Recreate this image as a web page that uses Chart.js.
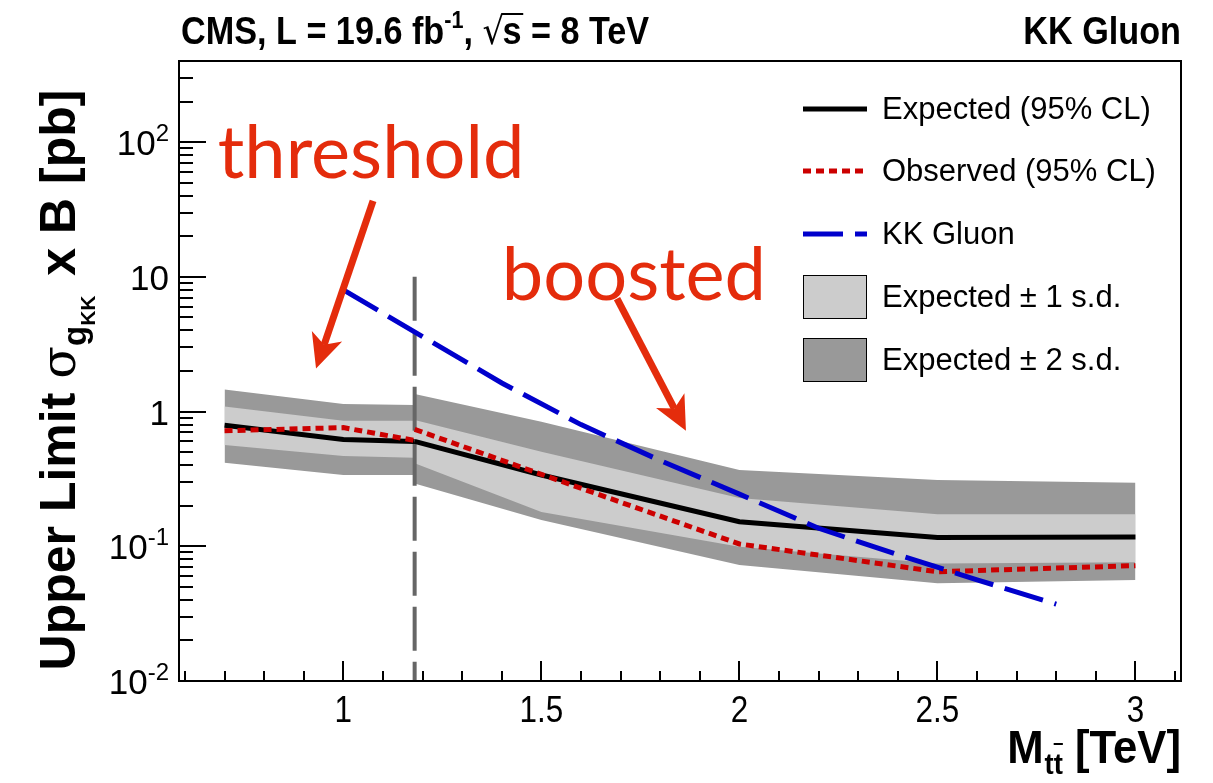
<!DOCTYPE html>
<html>
<head>
<meta charset="utf-8">
<title>KK gluon limits</title>
<script src="https://cdn.jsdelivr.net/npm/chart.js@4.4.1/dist/chart.umd.min.js"></script>
<style>
  html, body { margin: 0; padding: 0; background: #fff; }
  #wrap { width: 1213px; height: 783px; }
</style>
</head>
<body>
<div id="wrap"><canvas id="limits" width="1213" height="783"></canvas></div>
<script>
// threshold analysis, low mass points (TeV, pb)
const thresholdMass = [0.7, 1.0, 1.18];
const thresholdExpected = [0.79, 0.62, 0.60];
const thresholdObserved = [0.72, 0.76, 0.61];
const thresholdUp1 = [1.09, 0.855, 0.855];
const thresholdDown1 = [0.564, 0.468, 0.455];
const thresholdUp2 = [1.46, 1.14, 1.12];
const thresholdDown2 = [0.417, 0.338, 0.338];

// boosted analysis, high mass points
const boostedMass = [1.18, 1.5, 2.0, 2.5, 3.0];
const boostedExpected = [0.60, 0.338, 0.152, 0.116, 0.117];
const boostedObserved = [0.738, 0.342, 0.104, 0.0647, 0.0718];
const boostedUp1 = [0.865, 0.503, 0.228, 0.173, 0.173];
const boostedDown1 = [0.413, 0.180, 0.0993, 0.0746, 0.0760];
const boostedUp2 = [1.35, 0.84, 0.368, 0.310, 0.296];
const boostedDown2 = [0.293, 0.157, 0.0726, 0.0531, 0.0562];

// KK gluon theory cross section
const gluonMass = [1.0, 1.2, 1.4, 1.6, 1.8, 2.0, 2.2, 2.4, 2.6, 2.8];
const gluonXsec = [8.0, 3.6, 1.63, 0.80, 0.433, 0.244, 0.136, 0.0865, 0.0564, 0.0372];

// where threshold hands over to boosted (drawn top down)
const splitMass = [1.18, 1.18];
const splitXsec = [10, 0.01];

// axes
const xRange = [0.585, 3.115];
const yRange = [0.01, 400];
const xMajorTicks = [1, 1.5, 2, 2.5, 3];
const xTickLabels = ['1', '1.5', '2', '2.5', '3'];
const yMajorTicks = [0.01, 0.1, 1, 10, 100];
const yTickLabels = [['10', '-2'], ['10', '-1'], ['1', ''], ['10', ''], ['10', '2']];

// annotations, placed in data coordinates
const noteThreshold = { text: 'threshold', x: 0.683, y: 54 };
const noteBoosted = { text: 'boosted', x: 1.40, y: 6.7 };
const arrowThreshold = { from: [1.075, 36.6], to: [0.931, 2.09] };
const arrowBoosted = { from: [1.691, 6.9], to: [1.865, 0.72] };

const RED = '#cc0000';
const BLUE = '#0000cc';
const NOTE_RED = '#e42c0c';
const LIGHT = '#cccccc';
const DARK = '#999999';

const pts = (xs, ys) => xs.map((x, i) => ({ x: x, y: ys[i] }));

const xMinorTicks = [];
for (let i = 6; i <= 31; i++) xMinorTicks.push(i / 10);
const yMinorTicks = [];
for (let e = -2; e <= 2; e++) {
  for (let m = 2; m <= 9; m++) {
    const v = m * Math.pow(10, e);
    if (v <= yRange[1]) yMinorTicks.push(v);
  }
}

const SANS = '"Liberation Sans", Arial, sans-serif';

// draw a run of text pieces one after the other, returns end x
function drawRun(ctx, pieces, x, y, measureOnly) {
  for (const p of pieces) {
    ctx.font = p.font;
    const w = ctx.measureText(p.t).width;
    if (!measureOnly) {
      ctx.fillText(p.t, x, y + (p.dy || 0));
      if (p.bar) ctx.fillRect(x + p.bar[0] * w, y + (p.dy || 0) - p.bar[1], w * p.bar[2], 2);
    }
    x += w + (p.dx || 0);
  }
  return x;
}

function drawArrow(ctx, chart, a) {
  const xs = chart.scales.x, ys = chart.scales.y;
  const x0 = xs.getPixelForValue(a.from[0]), y0 = ys.getPixelForValue(a.from[1]);
  const x1 = xs.getPixelForValue(a.to[0]), y1 = ys.getPixelForValue(a.to[1]);
  const ang = Math.atan2(y1 - y0, x1 - x0);
  const ux = Math.cos(ang), uy = Math.sin(ang);
  const nx = -uy, ny = ux;
  const headLen = 34, notch = 25, half = 16;
  ctx.save();
  ctx.fillStyle = NOTE_RED;
  ctx.strokeStyle = NOTE_RED;
  ctx.lineWidth = 7;
  ctx.beginPath();
  ctx.moveTo(x0, y0);
  ctx.lineTo(x1 - ux * notch, y1 - uy * notch);
  ctx.stroke();
  ctx.beginPath();
  ctx.moveTo(x1, y1);
  ctx.lineTo(x1 - ux * headLen + nx * half, y1 - uy * headLen + ny * half);
  ctx.lineTo(x1 - ux * notch, y1 - uy * notch);
  ctx.lineTo(x1 - ux * headLen - nx * half, y1 - uy * headLen - ny * half);
  ctx.closePath();
  ctx.fill();
  ctx.restore();
}

const rootFrame = {
  id: 'rootFrame',
  afterDraw(chart) {
    const ctx = chart.ctx;
    const a = chart.chartArea;
    const xs = chart.scales.x, ys = chart.scales.y;
    ctx.save();

    // frame + inward ticks
    ctx.strokeStyle = '#000';
    ctx.lineWidth = 2;
    ctx.strokeRect(a.left, a.top, a.right - a.left, a.bottom - a.top);
    ctx.beginPath();
    xMinorTicks.forEach(v => {
      const px = Math.round(xs.getPixelForValue(v));
      ctx.moveTo(px, a.bottom); ctx.lineTo(px, a.bottom - 10);
    });
    xMajorTicks.forEach(v => {
      const px = Math.round(xs.getPixelForValue(v));
      ctx.moveTo(px, a.bottom); ctx.lineTo(px, a.bottom - 20);
    });
    yMinorTicks.forEach(v => {
      const py = Math.round(ys.getPixelForValue(v));
      ctx.moveTo(a.left, py); ctx.lineTo(a.left + 14, py);
    });
    yMajorTicks.forEach(v => {
      const py = Math.round(ys.getPixelForValue(v));
      ctx.moveTo(a.left, py); ctx.lineTo(a.left + 27, py);
    });
    ctx.stroke();

    ctx.fillStyle = '#000';

    // y tick labels with exponents
    ctx.textBaseline = 'alphabetic';
    ctx.textAlign = 'left';
    yMajorTicks.forEach((v, i) => {
      const py = ys.getPixelForValue(v);
      const [base, exp] = yTickLabels[i];
      const pieces = [{ t: base, font: '35px ' + SANS }];
      if (exp) pieces.push({ t: exp, font: '24px ' + SANS, dy: -14 });
      const w = drawRun(ctx, pieces, 0, 0, true);
      drawRun(ctx, pieces, a.left - 10 - w, py + 13, false);
    });

    // x tick labels, condensed
    ctx.textAlign = 'center';
    xMajorTicks.forEach((v, i) => {
      const px = xs.getPixelForValue(v);
      ctx.save();
      ctx.translate(px, a.bottom + 41);
      ctx.scale(0.85, 1);
      ctx.font = '37px ' + SANS;
      ctx.fillText(xTickLabels[i], 0, 0);
      ctx.restore();
    });

    // header line, bold condensed
    ctx.textAlign = 'left';
    const hb = 'bold 38px ' + SANS, hs = 'bold 24px ' + SANS;
    ctx.save();
    ctx.translate(a.left + 2, 44);
    ctx.scale(0.9, 1);
    let hx = drawRun(ctx, [
      { t: 'CMS, L = 19.6 fb', font: hb },
      { t: '-1', font: hs, dy: -16 },
      { t: ', ', font: hb }
    ], 0, 0, false);
    ctx.font = '38px "DejaVu Sans", sans-serif';
    ctx.fillText('\u221A', hx, 0);
    hx += ctx.measureText('\u221A').width - 2;
    ctx.font = hb;
    const sw = ctx.measureText('s').width;
    ctx.fillText('s', hx, 0);
    ctx.fillRect(hx - 1, -31, sw + 3, 2);
    hx += sw;
    drawRun(ctx, [{ t: ' = 8 TeV', font: hb }], hx, 0, false);
    ctx.restore();

    ctx.save();
    ctx.translate(a.right, 44);
    ctx.scale(0.9, 1);
    ctx.textAlign = 'right';
    ctx.font = hb;
    ctx.fillText('KK Gluon', 0, 0);
    ctx.restore();

    // x axis title
    ctx.save();
    ctx.textAlign = 'left';
    const xb = 'bold 46px ' + SANS, xsub = 'bold 29px ' + SANS;
    const xPieces = [
      { t: 'M', font: xb, dx: 1 },
      { t: 't', font: xsub, dy: 11 },
      { t: 't', font: xsub, dy: 11, bar: [0, 31, 1] },
      { t: ' [TeV]', font: xb }
    ];
    ctx.translate(a.right, 763);
    ctx.scale(0.95, 1);
    const xw = drawRun(ctx, xPieces, 0, 0, true);
    drawRun(ctx, xPieces, -xw, 0, false);
    ctx.restore();

    // y axis title, rotated
    ctx.save();
    const yb = 'bold 50px ' + SANS;
    const yPieces = [
      { t: 'Upper Limit ', font: yb },
      { t: '\u03C3', font: '48px "DejaVu Serif", serif' },
      { t: 'g', font: 'bold 33px ' + SANS, dy: 11 },
      { t: 'KK', font: 'bold 21px ' + SANS, dy: 20, dx: 6 },
      { t: ' x B [pb]', font: yb }
    ];
    ctx.translate(75, 0);
    ctx.rotate(-Math.PI / 2);
    const yw = drawRun(ctx, yPieces, 0, 0, true);
    drawRun(ctx, yPieces, -380 - yw / 2, 0, false);
    ctx.restore();

    // threshold / boosted notes
    ctx.fillStyle = NOTE_RED;
    ctx.font = '74px Lato, "Open Sans", sans-serif';
    ctx.textAlign = 'left';
    [noteThreshold, noteBoosted].forEach(n => {
      ctx.fillText(n.text, xs.getPixelForValue(n.x), ys.getPixelForValue(n.y));
    });
    drawArrow(ctx, chart, arrowThreshold);
    drawArrow(ctx, chart, arrowBoosted);

    // legend
    const lx = a.left + 624, tx = a.left + 703;
    const rows = [a.top + 48, a.top + 110, a.top + 173, a.top + 236, a.top + 299];
    ctx.textAlign = 'left';
    ctx.textBaseline = 'middle';
    ctx.font = '31px ' + SANS;
    ctx.fillStyle = '#000';
    const legendLines = [
      { text: 'Expected (95% CL)', color: '#000', dash: [] },
      { text: 'Observed (95% CL)', color: RED, dash: [8, 5] },
      { text: 'KK Gluon', color: BLUE, dash: [40, 12] }
    ];
    legendLines.forEach((l, i) => {
      ctx.save();
      ctx.strokeStyle = l.color;
      ctx.lineWidth = 5;
      ctx.setLineDash(l.dash);
      ctx.beginPath();
      ctx.moveTo(lx, rows[i]); ctx.lineTo(lx + 64, rows[i]);
      ctx.stroke();
      ctx.restore();
      ctx.fillText(l.text, tx, rows[i] + 1);
    });
    const legendBoxes = [
      { text: 'Expected \u00B1 1 s.d.', color: LIGHT },
      { text: 'Expected \u00B1 2 s.d.', color: DARK }
    ];
    legendBoxes.forEach((b, i) => {
      const cy = rows[3 + i];
      ctx.fillStyle = b.color;
      ctx.fillRect(lx, cy - 22, 64, 44);
      ctx.strokeStyle = '#000';
      ctx.lineWidth = 1;
      ctx.strokeRect(lx + 0.5, cy - 21.5, 63, 43);
      ctx.fillStyle = '#000';
      ctx.font = '31px ' + SANS;
      ctx.fillText(b.text, tx, cy + 1);
    });

    ctx.restore();
  }
};

const band = (data, color, order, fill) => ({
  data: data,
  borderWidth: 0,
  backgroundColor: color,
  fill: fill ? '+1' : false,
  pointRadius: 0,
  order: order
});

const line = (data, color, width, dash, order) => ({
  data: data,
  borderColor: color,
  borderWidth: width,
  borderDash: dash,
  borderCapStyle: 'butt',
  borderJoinStyle: 'miter',
  fill: false,
  pointRadius: 0,
  order: order
});

new Chart(document.getElementById('limits'), {
  type: 'line',
  data: {
    datasets: [
      band(pts(thresholdMass, thresholdUp2), DARK, 10, true),
      band(pts(thresholdMass, thresholdDown2), DARK, 10, false),
      band(pts(boostedMass, boostedUp2), DARK, 10, true),
      band(pts(boostedMass, boostedDown2), DARK, 10, false),
      band(pts(thresholdMass, thresholdUp1), LIGHT, 8, true),
      band(pts(thresholdMass, thresholdDown1), LIGHT, 8, false),
      band(pts(boostedMass, boostedUp1), LIGHT, 8, true),
      band(pts(boostedMass, boostedDown1), LIGHT, 8, false),
      line(pts(splitMass, splitXsec), '#666666', 4, [44, 11], 5),
      line(pts(thresholdMass, thresholdExpected), '#000', 5, [], 3),
      line(pts(boostedMass, boostedExpected), '#000', 5, [], 3),
      line(pts(thresholdMass, thresholdObserved), RED, 5, [8, 5], 2),
      line(pts(boostedMass, boostedObserved), RED, 5, [8, 5], 2),
      line(pts(gluonMass, gluonXsec), BLUE, 5, [40, 12], 1)
    ]
  },
  options: {
    responsive: false,
    animation: false,
    layout: { padding: { left: 179, top: 61, right: 32, bottom: 102 } },
    plugins: {
      legend: { display: false },
      tooltip: { enabled: false }
    },
    scales: {
      x: { type: 'linear', min: xRange[0], max: xRange[1], display: false },
      y: { type: 'logarithmic', min: yRange[0], max: yRange[1], display: false }
    }
  },
  plugins: [rootFrame]
});
</script>
</body>
</html>
